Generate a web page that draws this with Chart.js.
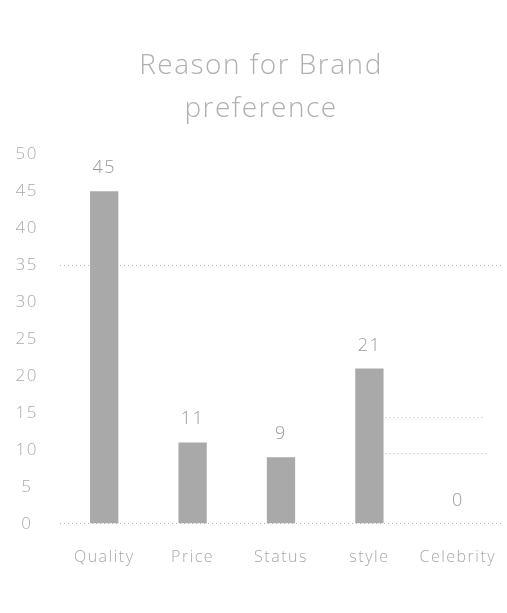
<!DOCTYPE html>
<html>
<head>
<meta charset="utf-8">
<script src="https://cdn.jsdelivr.net/npm/chart.js@4/dist/chart.umd.min.js"></script>
<style>
  html, body { margin: 0; padding: 0; background: #fff; }
  #wrap { width: 507px; height: 613px; }
</style>
</head>
<body>
<div id="wrap"><canvas id="chart"></canvas></div>
<script>
// data
const reasons = ['Quality', 'Price', 'Status', 'style', 'Celebrity'];
const counts = [45, 11, 9, 21, 0];
const tickLabels = [0, 5, 10, 15, 20, 25, 30, 35, 40, 45, 50];
// short stray dotted lines right of the "style" bar
const strayLines = [14.5, 9.6];

const grey = '#a9a9a9';
const textFont = "'Open Sans', sans-serif";

// wider letters like the original, title a bit to the right
const spacing = {
  id: 'spacing',
  beforeLayout(chart) { chart.ctx.letterSpacing = '1.5px'; },
  afterLayout(chart) {
    const t = chart.titleBlock;
    if (t) { t.left += 20; t.width -= 20; }
  },
  beforeDraw(chart) { chart.ctx.letterSpacing = '1.5px'; }
};

// value labels over the bars + stray lines
const valueLabels = {
  id: 'valueLabels',
  afterDatasetsDraw(chart) {
    const ctx = chart.ctx;
    const meta = chart.getDatasetMeta(0);
    const ys = chart.scales.y;
    ctx.save();
    ctx.strokeStyle = '#b8b8b8';
    ctx.lineWidth = 1;
    ctx.setLineDash([1, 3]);
    const st = meta.data[3];
    strayLines.forEach((v, i) => {
      const py = Math.round(ys.getPixelForValue(v)) + 0.5;
      ctx.beginPath();
      ctx.moveTo(st.x + st.width / 2 + 2, py);
      ctx.lineTo(st.x + st.width / 2 + 99 + i * 5, py);
      ctx.stroke();
    });
    ctx.setLineDash([]);
    ctx.fillStyle = '#9a9a9a';
    ctx.font = "300 18px " + textFont;
    ctx.textAlign = 'center';
    ctx.textBaseline = 'alphabetic';
    meta.data.forEach((bar, i) => {
      ctx.fillText(String(counts[i]), bar.x, bar.y - 18);
    });
    ctx.restore();
  }
};

function drawChart(ctx) {
  return new Chart(ctx, {
    type: 'bar',
    data: {
      labels: reasons,
      datasets: [{
        data: counts,
        backgroundColor: grey,
        borderWidth: 0,
        barPercentage: 0.64,
        categoryPercentage: 0.5
      }]
    },
    options: {
      responsive: true,
      maintainAspectRatio: false,
      animation: false,
      layout: { padding: { left: 0, right: 5, top: 0, bottom: 30 } },
      plugins: {
        legend: { display: false },
        tooltip: { enabled: false },
        title: {
          display: true,
          text: ['Reason for Brand', 'preference'],
          color: '#b0b0b0',
          font: { family: textFont, size: 28, weight: '300', lineHeight: 1.54 },
          padding: { top: 44, bottom: 24 }
        }
      },
      scales: {
        x: {
          afterFit(s) { s.paddingLeft = 0; s.paddingRight = 0; },
          grid: { display: false },
          border: { display: false },
          ticks: {
            color: '#a8a8a8',
            font: { family: textFont, size: 16, weight: '300' },
            padding: 16
          }
        },
        y: {
          position: 'left',
          min: 0,
          max: 50,
          afterFit(s) { s.width = 60; },
          afterBuildTicks(s) { s.ticks = tickLabels.map(v => ({ value: v })); },
          border: { display: false, dash: [1, 3] },
          grid: {
            drawTicks: false,
            color: (c) => (c.tick && (c.tick.value === 35 || c.tick.value === 0)) ? '#b8b8b8' : 'rgba(0,0,0,0)'
          },
          ticks: {
            color: '#ababab',
            font: { family: textFont, size: 17, weight: '300' },
            padding: 22,
            crossAlign: 'center'
          }
        }
      }
    },
    plugins: [spacing, valueLabels]
  });
}

drawChart(document.querySelector('#chart').getContext('2d'));
</script>
</body>
</html>
